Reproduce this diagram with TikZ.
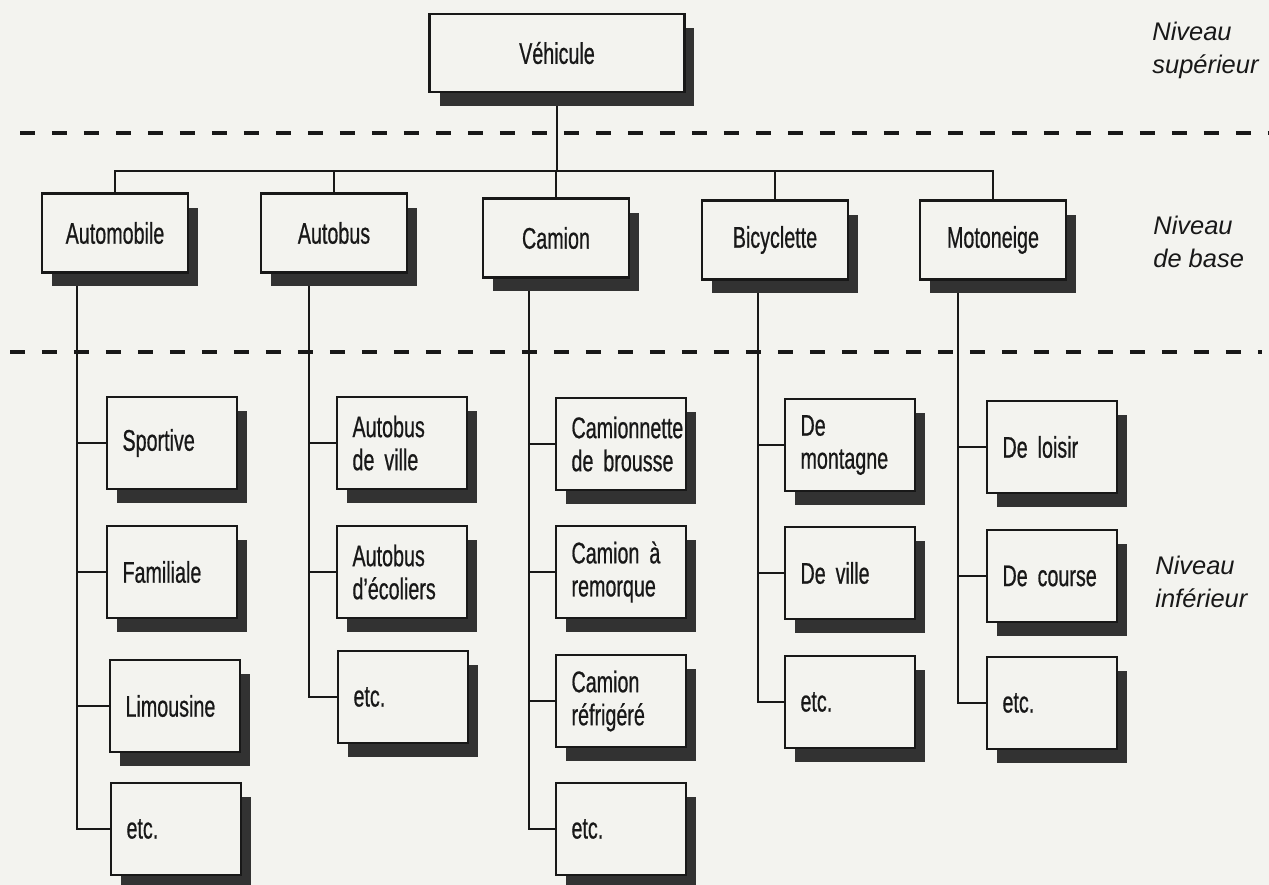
\documentclass[tikz,border=0pt]{standalone}
\usepackage{fontspec}
\setmainfont{Liberation Sans}
\newfontfamily\narrowsf{Liberation Sans}[FakeStretch=0.66,FakeBold=0.6]
\usetikzlibrary{shadows}
\definecolor{paper}{RGB}{243,243,239}
\definecolor{ink}{RGB}{24,24,24}
\definecolor{shade}{RGB}{50,50,50}
\pgfdeclarelayer{paperlayer}
\pgfdeclarelayer{linklayer}
\pgfsetlayers{paperlayer,linklayer,main}

\begin{document}
\begin{tikzpicture}[x=0.02cm,y=-0.02cm,
  card/.style={draw=ink,fill=paper,line width=1.2pt,
     drop shadow={shadow xshift=0.2cm,shadow yshift=-0.28cm,fill=shade,opacity=1},
     text=ink,font=\fontsize{17}{18.8}\selectfont\narrowsf},
  topbox/.style={card,minimum width=5.1cm,minimum height=1.56cm},
  basebox/.style={card,minimum width=2.92cm,minimum height=1.58cm},
  leafbox/.style={card,minimum height=1.84cm,inner xsep=0.31cm,text width=1.98cm,align=left,
     execute at begin node={\hyphenpenalty=10000}},
  link/.style={draw=ink,line width=0.9pt},
  levelsep/.style={ink,line width=2pt,dash pattern=on 0.3cm off 0.34cm},
  levellabel/.style={anchor=west,inner sep=0pt,align=left,text=ink,
     font=\fontsize{14.5}{18.8}\selectfont\itshape}]
  \useasboundingbox (0,0) rectangle (1269,885);
  \begin{pgfonlayer}{paperlayer}
    \fill[paper] (0,0) rectangle (1269,885);
  \end{pgfonlayer}

  \draw[levelsep] (20,133) -- (1269,133);
  \draw[levelsep] (10,352) -- (1262,352);

  \node[topbox] (veh) at (557,53) {Véhicule};

  \node[basebox] (auto)  at (115,233) {Automobile};
  \node[basebox] (autob) at (334,233) {Autobus};
  \node[basebox] (cam)   at (556,238) {Camion};
  \node[basebox] (bicy)  at (775,240) {Bicyclette};
  \node[basebox] (moto)  at (993,240) {Motoneige};

  \foreach \n/\x/\y/\t in {%
     spor/172/443/Sportive,
     fami/172/572/Familiale,
     limo/175/706/Limousine,
     autoetc/176/829/etc.,
     autobv/402/443/Autobus\\de~ville,
     autobe/402/572/Autobus\\d’écoliers,
     autobetc/403/697/etc.,
     camb/621/444/Camionnette\\de~brousse,
     camr/621/572/Camion~à\\remorque,
     camf/621/701/Camion\\réfrigéré,
     cametc/621/829/etc.,
     bicym/850/445/De\\montagne,
     bicyv/850/573/De~ville,
     bicyetc/850/702/etc.,
     motol/1052/447/De~loisir,
     motoc/1052/576/De~course,
     motoetc/1052/703/etc.}{
     \node[leafbox] (\n) at (\x,\y) {\t};
  }

  \node[levellabel] (lsup)  at (1152,50)  {Niveau\\supérieur};
  \node[levellabel] (lbase) at (1153,242) {Niveau\\de base};
  \node[levellabel] (linf)  at (1155,582) {Niveau\\inférieur};

  \begin{pgfonlayer}{linklayer}
    \coordinate (hub)   at (557,171);
    \coordinate (autoT) at (77,273);
    \coordinate (autobT) at (309,273);
    \coordinate (camT)  at (529,278);
    \coordinate (bicyT) at (758,280);
    \coordinate (motoT) at (958,280);
    \draw[link] (veh.south) -- (hub);
    \foreach \n in {auto,autob,cam,bicy,moto}
       \draw[link] (\n.north) |- (hub);
    \foreach \n/\p in {spor/autoT,fami/autoT,limo/autoT,autoetc/autoT,
       autobv/autobT,autobe/autobT,autobetc/autobT,
       camb/camT,camr/camT,camf/camT,cametc/camT,
       bicym/bicyT,bicyv/bicyT,bicyetc/bicyT,
       motol/motoT,motoc/motoT,motoetc/motoT}
       \draw[link] (\n.west) -| (\p);
  \end{pgfonlayer}
\end{tikzpicture}
\end{document}
